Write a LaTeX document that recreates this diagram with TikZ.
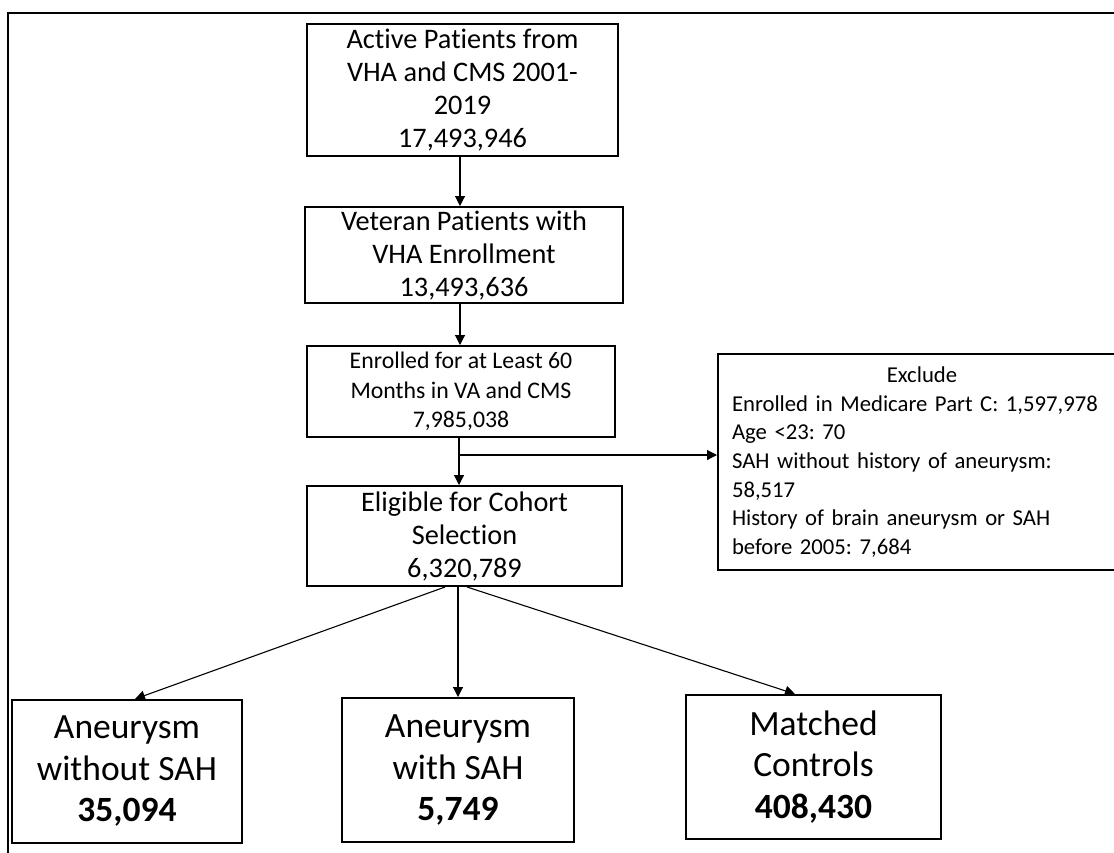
\documentclass[tikz,border=0pt]{standalone}
\usepackage{fontspec}
\setmainfont{Carlito}[RawFeature={-liga;-clig;-dlig}]
\usetikzlibrary{arrows.meta}
\begin{document}
\frenchspacing
\begin{tikzpicture}[x=1pt,y=-1pt,
  box/.style={draw, line width=2pt, align=center, inner sep=0pt},
  arr/.style={line width=1.1pt, -{Triangle[width=10pt,length=10pt]}},
  fA/.style={font=\fontsize{28.3}{33}\selectfont},
  fB/.style={font=\fontsize{23.8}{29.5}\selectfont},
  fE/.style={font=\fontsize{22.7}{28.7}\selectfont},
  fC/.style={font=\fontsize{35.5}{41.5}\selectfont}]
\useasboundingbox (0,0) rectangle (1114,852);
\clip (0,0) rectangle (1114,852);
% frame
\draw[line width=2.2pt] (8,860) -- (8,13) -- (1130,13);
% nodes
\node[box,fA,minimum width=311pt,minimum height=132pt] (b1) at (462.5,90)
  {Active Patients from\\VHA and CMS 2001-\\2019\\17,493,946};
\node[box,fA,minimum width=318pt,minimum height=96pt] (b2) at (464,255)
  {Veteran Patients with\\VHA Enrollment\\13,493,636};
\node[box,fB,minimum width=308pt,minimum height=91pt] (b3) at (461,391.5)
  {Enrolled for at Least 60\\Months in VA and CMS\\7,985,038};
\node[box,fA,minimum width=315pt,minimum height=100pt] (b4) at (464.5,536)
  {Eligible for Cohort\\Selection\\6,320,789};
\node[box,fE,minimum width=408pt,minimum height=216pt,text width=380pt,align=left,inner xsep=14pt] (ex) at (922,462)
  {\makebox[\linewidth]{Exclude}\\Enrolled in Medicare Part C: 1,597,978\\Age <23: 70\\SAH without history of aneurysm:\\58,517\\History of brain aneurysm or SAH\\before 2005: 7,684};
\node[box,fC,minimum width=230pt,minimum height=143pt] (nA) at (127,771.5)
  {Aneurysm\\without SAH\\\textbf{35,094}};
\node[box,fC,minimum width=232pt,minimum height=144pt] (nB) at (458,770)
  {Aneurysm\\with SAH\\\textbf{5,749}};
\node[box,fC,minimum width=255pt,minimum height=144pt] (nC) at (813.5,767)
  {Matched\\Controls\\\textbf{408,430}};
% helper coordinates
\coordinate (ax) at (460,0);
\coordinate (br) at (459,455);
% connectors
\draw[arr] (b1.south -| ax) -- (b2.north -| ax);
\draw[arr] (b2.south -| ax) -- (b3.north -| ax);
\draw[arr] (b3.south -| br) -- (b4.north -| br);
\draw[arr] (br) -- (ex.west |- br);
\draw[arr] ([xshift=-19.5pt]b4.south) -- ([xshift=8pt]nA.north);
\draw[arr] (b4.south -| nB) -- (nB.north);
\draw[arr] ([xshift=2.5pt]b4.south) -- ([xshift=-18.5pt]nC.north);
\end{tikzpicture}
\end{document}
